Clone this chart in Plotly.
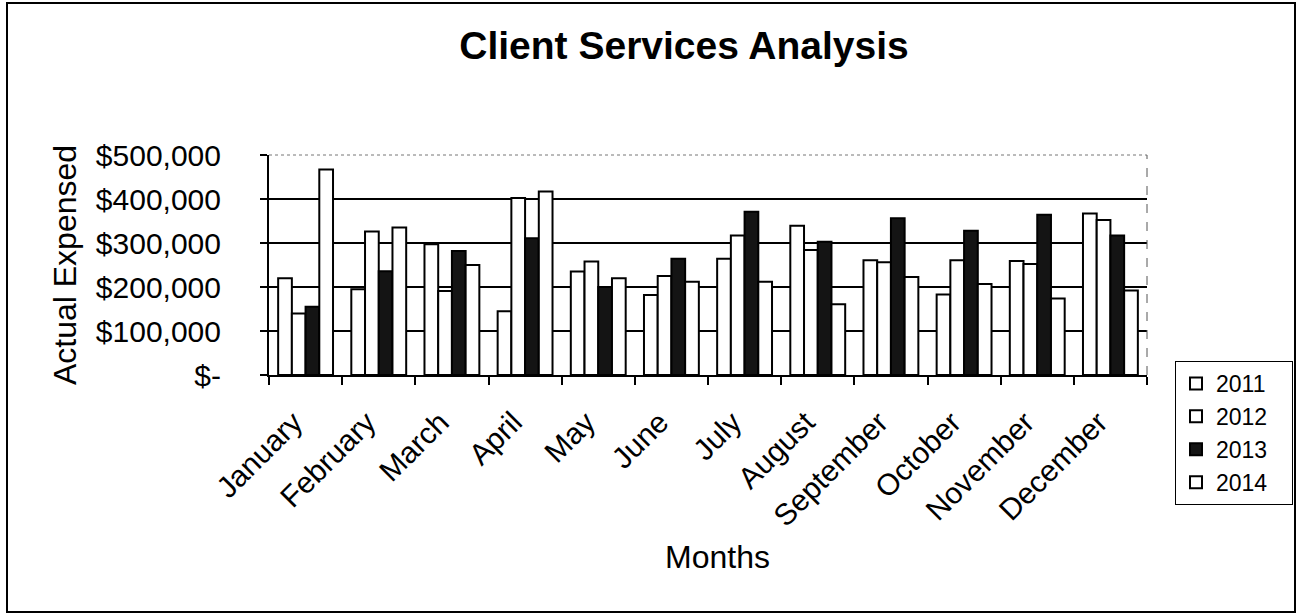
import plotly.graph_objects as go

months = ["January", "February", "March", "April", "May", "June", "July",
          "August", "September", "October", "November", "December"]
years = ["2011", "2012", "2013", "2014"]
v2011 = [220000, 195000, 297000, 145000, 235000, 182000, 264000, 339000, 261000, 183000, 259000, 367000]
v2012 = [140000, 326000, 191000, 402000, 258000, 225000, 317000, 284000, 256000, 261000, 252000, 352000]
v2013 = [155000, 236000, 282000, 311000, 200000, 264000, 371000, 303000, 356000, 328000, 364000, 317000]
v2014 = [467000, 335000, 250000, 417000, 220000, 212000, 212000, 161000, 223000, 207000, 174000, 192000]
series = [v2011, v2012, v2013, v2014]
fills = ["white", "white", "#141414", "white"]

ytick_vals = [0, 100000, 200000, 300000, 400000, 500000]
ytick_text = ["$-", "$100,000", "$200,000", "$300,000", "$400,000", "$500,000"]

FONT = "Liberation Sans, Arial, sans-serif"
NB = "\u00a0"

fig = go.Figure()
for name, vals, fc in zip(years, series, fills):
    fig.add_trace(go.Bar(
        x=months, y=vals, name=name + NB * 3,
        marker=dict(color=fc, line=dict(color="black", width=2)),
    ))

W, H = 1299, 615
L, R, T, B = 269, 1147, 155, 375
pw, ph = R - L, B - T

def px(x):
    return (x - L) / pw

def py(y):
    return (B - y) / ph

fig.update_layout(
    width=W, height=H,
    margin=dict(l=L, r=W - R, t=T, b=H - B, pad=0, autoexpand=False),
    paper_bgcolor="white", plot_bgcolor="white",
    barmode="group", bargap=0.25, bargroupgap=0,
    font=dict(family=FONT, color="black", size=30),
    title=dict(text="<b>Client Services Analysis</b>", x=684 / W, xanchor="center",
               y=1 - 45 / H, yanchor="middle",
               font=dict(family=FONT, size=39, color="black")),
    legend=dict(x=px(1175), y=py(361), xanchor="left", yanchor="top",
                bordercolor="black", borderwidth=1, bgcolor="white",
                font=dict(family=FONT, size=23, color="black"),
                traceorder="normal", tracegroupgap=0),
    xaxis=dict(showline=True, linecolor="black", linewidth=2,
               ticks="outside", tickson="boundaries", ticklen=8, tickcolor="black", tickwidth=1.5,
               tickmode="array", tickvals=months, ticktext=[m + NB + NB for m in months],
               tickangle=-45, ticklabelstandoff=4,
               tickfont=dict(family=FONT, size=30, color="black"),
               showgrid=False),
    yaxis=dict(range=[0, 500000], tickvals=ytick_vals, ticktext=ytick_text,
               showline=True, linecolor="black", linewidth=2,
               ticks="outside", ticklen=7, tickcolor="black", tickwidth=1.5,
               ticklabelstandoff=33,
               tickfont=dict(family=FONT, size=30, color="black"),
               showgrid=True, gridcolor="black", gridwidth=1.5, zeroline=False,
               title=dict(text="Actual Expensed", font=dict(family=FONT, size=32, color="black"), standoff=10)),
    annotations=[
        dict(text="Months", xref="paper", yref="paper", x=px(717), y=py(557),
             xanchor="center", yanchor="middle", showarrow=False,
             font=dict(family=FONT, size=32, color="black")),
    ],
    shapes=[
        dict(type="line", xref="paper", yref="paper", x0=0.003, x1=1, y0=1, y1=1,
             line=dict(color="white", width=3), layer="above"),
        dict(type="line", xref="paper", yref="paper", x0=0, x1=1, y0=1, y1=1,
             line=dict(color="#777777", width=1, dash="dot"), layer="above"),
        dict(type="line", xref="paper", yref="paper", x0=1, x1=1, y0=0, y1=1,
             line=dict(color="#555555", width=1, dash="dash"), layer="above"),
        dict(type="rect", xref="paper", yref="paper",
             x0=px(7), x1=px(1295), y0=py(612), y1=py(3),
             line=dict(color="black", width=2), fillcolor="rgba(0,0,0,0)", layer="above"),
    ],
)

fig.write_html("out.html", config={"displayModeBar": False},
               post_script="document.body.style.margin='0px';")
